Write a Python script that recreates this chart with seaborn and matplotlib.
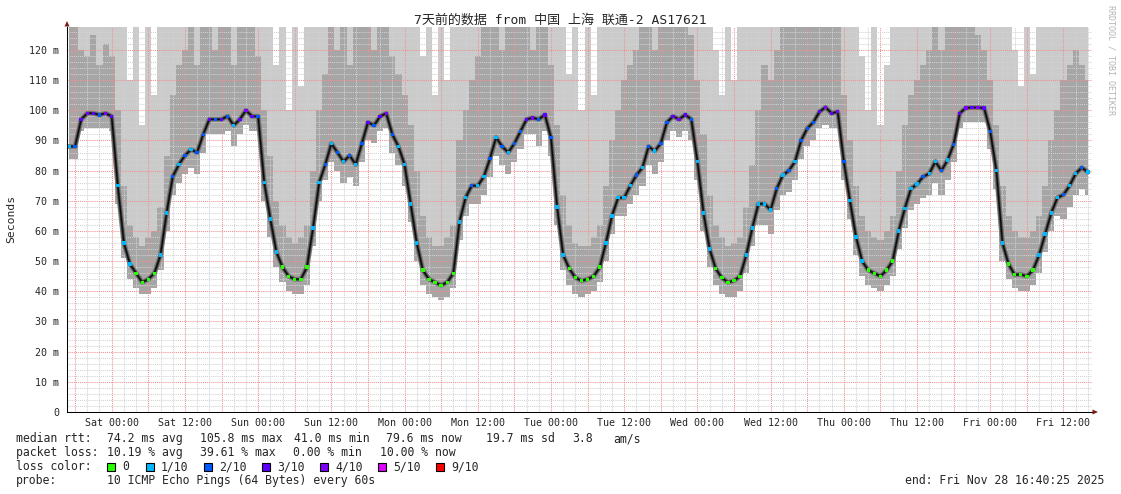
import numpy as np
import pandas as pd
import matplotlib
matplotlib.use("Agg")
import matplotlib.pyplot as plt
from matplotlib.patches import Polygon, Rectangle
import seaborn as sns

# ---------------- data (hourly, Fri 21 Nov 17:00 .. Fri 28 Nov 16:00) ----------------
start_time = "2025-11-21 17:00"
range_start = "2025-11-21 16:40:25"
range_end = "2025-11-28 16:40:25"

median_ms = [
    88, 88, 97, 99, 99, 98.5, 99, 98,
    75, 56, 49, 46, 43, 44, 46, 52, 66, 78,
    82, 85, 87, 86, 92, 97, 97, 97, 98, 95,
    97, 100, 98, 98, 76, 64, 53, 48, 45, 44,
    44, 48, 61, 76, 82, 89, 86, 83, 85, 82,
    89, 96, 95, 98, 99, 92, 88, 82, 69, 56,
    47, 44, 43, 42, 43, 46, 63, 71, 75, 75,
    78, 84, 91, 88, 86, 89, 93, 97, 97.5, 97,
    98.5, 91, 68, 52, 47.5, 44.5, 43.5, 44, 45, 48,
    56, 65, 71, 71, 75, 78.5, 81, 88, 86.5, 89,
    96, 98, 97, 98.5, 97, 83, 66, 54, 47.5, 44.5,
    43, 43.5, 45, 52, 61, 69, 69, 67, 74, 78.5,
    80, 83, 90, 94, 96, 99.5, 101, 99, 99.5, 83,
    70, 58, 50, 47, 46, 45, 47, 50, 60, 67.5,
    74, 75.5, 78, 79, 83, 80, 83.5, 88.7, 99, 100.8,
    100.9, 100.9, 100.7, 93, 80, 56, 49, 45.5, 45.6, 45,
    47, 52, 59, 66, 71, 72, 75, 79, 81, 79.5,
]

smoke_low = [
    84, 84, 93, 94, 94, 94, 94, 93,
    69, 51, 44, 41, 39, 39, 41, 47, 60, 72,
    76, 79, 81, 79, 86, 92, 92, 92, 93, 88,
    92, 95, 93, 93, 70, 58, 48, 43, 40, 39,
    39, 42, 55, 70, 77, 83, 80, 76, 78, 75,
    83, 90, 89, 93, 94, 86, 82, 75, 63, 50,
    42, 39, 38, 37, 38, 41, 57, 65, 69, 69,
    72, 78, 85, 82, 79, 83, 87, 92, 92, 88,
    93, 85, 62, 47, 42, 39, 38, 39, 40, 43,
    50, 59, 65, 65, 69, 72, 75, 82, 79, 83,
    90, 93, 91, 93, 90, 77, 60, 48, 42, 39,
    38, 38, 40, 46, 55, 62, 62, 59, 67, 72,
    73, 77, 84, 88, 90, 94, 95, 94, 94, 77,
    64, 52, 45, 42, 41, 40, 42, 45, 54, 61,
    67, 69, 71, 72, 76, 72, 77, 83, 94, 96,
    96, 96, 96, 87, 74, 50, 44, 41, 40, 40,
    42, 46, 53, 60, 65, 64, 68, 72, 74, 72,
]

smoke_mid = [
    128, 128, 120, 118, 125, 115, 122, 118,
    100, 75, 62, 58, 55, 58, 60, 68, 85, 105,
    115, 120, 128, 115, 128, 128, 120, 128, 128, 115,
    128, 128, 128, 118, 100, 85, 70, 62, 58, 56,
    58, 62, 80, 100, 112, 128, 120, 128, 115, 128,
    128, 128, 120, 128, 128, 118, 112, 105, 95, 80,
    65, 58, 55, 55, 58, 62, 90, 100, 110, 118,
    128, 128, 128, 120, 128, 128, 128, 128, 120, 128,
    128, 115, 95, 72, 62, 56, 55, 55, 58, 62,
    75, 90, 100, 110, 115, 120, 128, 128, 120, 128,
    128, 128, 128, 128, 125, 110, 92, 72, 62, 58,
    55, 56, 58, 68, 82, 100, 115, 110, 120, 128,
    128, 128, 128, 128, 128, 128, 128, 128, 128, 105,
    90, 75, 65, 60, 58, 57, 60, 65, 80, 95,
    105, 110, 115, 120, 128, 120, 128, 128, 128, 128,
    128, 125, 120, 110, 95, 75, 65, 60, 58, 58,
    60, 65, 75, 90, 100, 110, 115, 120, 115, 110,
]

smoke_top = [
    128, 128, 128, 128, 128, 128, 128, 128,
    128, 128, 110, 128, 95, 128, 105, 128, 128, 128,
    128, 128, 128, 128, 128, 128, 128, 128, 128, 128,
    128, 128, 128, 128, 128, 128, 115, 128, 100, 128,
    108, 128, 128, 128, 128, 128, 128, 128, 128, 128,
    128, 128, 128, 128, 128, 128, 128, 128, 128, 128,
    118, 128, 105, 128, 110, 128, 128, 128, 128, 128,
    128, 128, 128, 128, 128, 128, 128, 128, 128, 128,
    128, 128, 128, 128, 112, 128, 100, 128, 105, 128,
    128, 128, 128, 128, 128, 128, 128, 128, 128, 128,
    128, 128, 128, 128, 128, 128, 128, 128, 120, 105,
    128, 110, 128, 128, 128, 128, 128, 128, 128, 128,
    128, 128, 128, 128, 128, 128, 128, 128, 128, 128,
    128, 128, 118, 100, 128, 95, 115, 128, 128, 128,
    128, 128, 128, 128, 128, 128, 128, 128, 128, 128,
    128, 128, 128, 128, 128, 128, 128, 120, 108, 128,
    112, 128, 128, 128, 128, 128, 128, 128, 128, 128,
]

loss_tenths = [
    1, 2, 3, 4, 3, 2, 4, 3,
    1, 1, 1, 0, 0, 0, 0, 1, 1, 2,
    1, 2, 1, 2, 2, 3, 2, 3, 2, 1,
    3, 4, 3, 2, 1, 1, 1, 0, 0, 0,
    0, 0, 1, 1, 2, 1, 2, 1, 2, 1,
    2, 3, 2, 3, 4, 2, 1, 1, 1, 1,
    0, 0, 0, 0, 0, 0, 1, 1, 2, 1,
    1, 2, 1, 2, 1, 2, 2, 3, 4, 2,
    3, 2, 1, 1, 0, 0, 0, 0, 0, 0,
    1, 1, 1, 1, 1, 2, 1, 2, 1, 2,
    2, 3, 4, 3, 2, 1, 1, 1, 0, 0,
    0, 0, 0, 1, 1, 1, 1, 1, 2, 1,
    2, 1, 2, 2, 2, 3, 4, 3, 4, 2,
    1, 1, 1, 0, 0, 0, 0, 0, 1, 1,
    1, 1, 2, 1, 1, 2, 1, 2, 3, 4,
    3, 4, 3, 2, 1, 1, 0, 0, 0, 0,
    0, 1, 1, 1, 1, 2, 1, 1, 2, 1,
]

loss_labels = ["0", "1/10", "2/10", "3/10", "4/10", "5/10", "9/10"]
loss_colors = ["#26ff00", "#00b8ff", "#0059ff", "#5e00ff", "#7e00ff", "#dd00ff", "#ff0000"]
ytick_values = [0, 10, 20, 30, 40, 50, 60, 70, 80, 90, 100, 110, 120]

title = "7天前的数据 from 中国 上海 联通-2 AS17621"
stat_rows = [
    ("median rtt:", ["74.2 ms avg", "105.8 ms max", "41.0 ms min", "79.6 ms now", "19.7 ms sd", "3.8", "am/s"]),
    ("packet loss:", ["10.19 % avg", "39.61 % max", "0.00 % min", "10.00 % now"]),
]
probe_text = "10 ICMP Echo Pings (64 Bytes) every 60s"
end_text = "end: Fri Nov 28 16:40:25 2025"

# ---------------- build frame ----------------
times = pd.date_range(start_time, periods=len(median_ms), freq="h")
loss_name = {0: "0", 1: "1/10", 2: "2/10", 3: "3/10", 4: "4/10", 5: "5/10", 9: "9/10"}
df = pd.DataFrame({
    "time": times,
    "median": median_ms,
    "low": smoke_low,
    "mid": smoke_mid,
    "top": smoke_top,
    "loss": [loss_name[v] for v in loss_tenths],
})

W, H = 1121, 494
sns.set_style("white")
plt.rcParams["font.family"] = ["DejaVu Sans Mono", "Noto Sans CJK SC"]

fig = plt.figure(figsize=(W / 100, H / 100), dpi=100)
fig.patch.set_facecolor("white")
L, R, T, B = 67, 1092, 27, 412
ax = fig.add_axes([L / W, 1 - B / H, (R - L) / W, (B - T) / H])

def px(x, y):
    return x / W, 1 - y / H

# smoke
ax.fill_between(df["time"], df["mid"], df["top"], step="mid", color="#cbcbcb", lw=0, zorder=1)
ax.fill_between(df["time"], df["low"], df["mid"], step="mid", color="#a6a6a6", lw=0, zorder=2)

# grid
red = "#f09090"
grey = "#d2d2d2"
t0, t1 = pd.Timestamp(range_start), pd.Timestamp(range_end)
for t in pd.date_range("2025-11-21 18:00", "2025-11-28 16:00", freq="2h"):
    col = red if t.hour % 6 == 0 else grey
    ax.axvline(t, color=col, lw=0.75, ls=(0, (1, 1)), zorder=3)
for v in range(2, 128, 2):
    col = red if v % 10 == 0 else grey
    ax.axhline(v, color=col, lw=0.75, ls=(0, (1, 1)), zorder=3)

# median with dark smoke core
sns.lineplot(data=df, x="time", y="median", color="#7c7c7c", lw=3.6, ax=ax, zorder=4)
sns.lineplot(data=df, x="time", y="median", color="#3c3c3c", lw=2.0, ax=ax, zorder=4)
sns.lineplot(data=df, x="time", y="median", color="#0a0a0a", lw=0.9, ax=ax, zorder=5)
sns.scatterplot(data=df, x="time", y="median", hue="loss",
                palette=dict(zip(loss_labels, loss_colors)), marker="s", s=6,
                linewidth=0, legend=False, ax=ax, zorder=6)

ax.set_xlim(t0, t1)
ax.set_ylim(0, 127.6)
ax.set_xlabel("")
ax.set_ylabel("")

xt = pd.date_range("2025-11-22 00:00", "2025-11-28 12:00", freq="12h")
ax.set_xticks(xt)
ax.set_xticklabels([t.strftime("%a %H:%M") for t in xt])
ax.set_yticks(ytick_values)
ax.set_yticklabels(["0" if v == 0 else f"{v} m" for v in ytick_values])
ax.tick_params(axis="x", length=0, pad=4.0, labelsize=7.2)
ax.tick_params(axis="y", length=3.6, width=0.75, pad=2.2, labelsize=7.2)

for s in ["top", "right"]:
    ax.spines[s].set_visible(False)
for s in ["left", "bottom"]:
    ax.spines[s].set_color("black")
    ax.spines[s].set_linewidth(0.75)
    ax.spines[s].set_zorder(7)

# axis arrows
arrow_col = "#7a1a1a"
fig.patches.append(Polygon([px(64.5, 26.5), px(69.5, 26.5), px(67, 21)], closed=True,
                           transform=fig.transFigure, color=arrow_col, lw=0))
fig.patches.append(Polygon([px(1092.5, 409.5), px(1092.5, 414.5), px(1098, 412)], closed=True,
                           transform=fig.transFigure, color=arrow_col, lw=0))

# texts
fig.text(*px(560.5, 20.5), title, ha="center", va="center", fontsize=9.4,
         family=["DejaVu Sans Mono", "Noto Sans CJK SC"])
fig.text(*px(11, 219), "Seconds", rotation=90, ha="center", va="center", fontsize=8.2)
fig.text(*px(1111, 5), "RRDTOOL / TOBI OETIKER", rotation=270, ha="center", va="top",
         fontsize=6.0, color="#b4b4b4")

fs = 8.3
row_y = [438.5, 452.5, 466.5, 480.5]
col_x = [[107, 200, 294, 386, 486, 572, 613], [107, 200, 293, 380]]
for (lab, items), y, xs in zip(stat_rows, row_y[:2], col_x):
    fig.text(*px(16, y), lab, ha="left", va="center", fontsize=fs)
    for it, x in zip(items, xs):
        fig.text(*px(x, y), it, ha="left", va="center", fontsize=fs)

fig.text(*px(16, row_y[2]), "loss color:", ha="left", va="center", fontsize=fs)
sq_x = [107, 146, 204, 262, 320, 378, 436]
for lab, col, x in zip(loss_labels, loss_colors, sq_x):
    x0, y0 = px(x, row_y[2] + 4)
    fig.patches.append(Rectangle((x0, y0), 7.5 / W, 7.5 / H, transform=fig.transFigure,
                                 facecolor=col, edgecolor="black", lw=0.8))
    fig.text(*px(x + 15, row_y[2]), lab, ha="left", va="center", fontsize=fs)

fig.text(*px(16, row_y[3]), "probe:", ha="left", va="center", fontsize=fs)
fig.text(*px(107, row_y[3]), probe_text, ha="left", va="center", fontsize=fs)
fig.text(*px(1104, row_y[3]), end_text, ha="right", va="center", fontsize=fs)

fig.savefig("out.png", dpi=100)
